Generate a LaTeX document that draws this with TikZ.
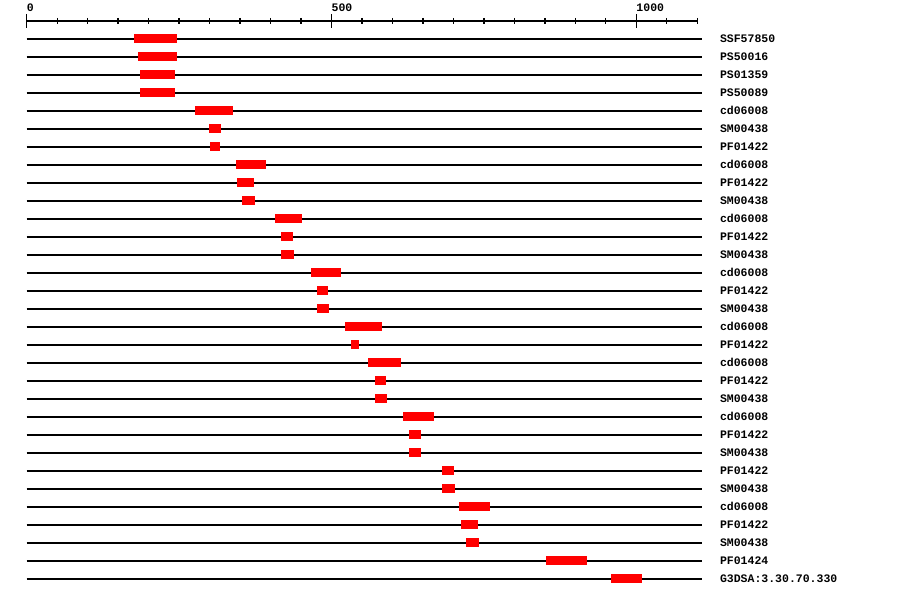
\documentclass[tikz,border=0pt]{standalone}
\usepackage{fontspec}
\setmonofont{Liberation Mono}
\usetikzlibrary{positioning}
\definecolor{hitcol}{RGB}{255, 0, 0}

\begin{document}
\begin{tikzpicture}[
    x=0.6096pt, y=-18pt,
    track/.style = {draw=black, line width=1.3pt},
    hit/.style = {fill=hitcol},
    tick/.style = {draw=black, line width=1.3pt},
    ticklabel/.style = {anchor=west, inner sep=0pt, font=\fontsize{11.5}{12}\selectfont\ttfamily\bfseries},
    hitname/.style = {anchor=base west, inner sep=0pt, yshift=-3.8pt, font=\fontsize{11.5}{12}\selectfont\ttfamily\bfseries}
]
    \useasboundingbox[fill=white] (-43.8,-1.1667) rectangle (1432.6,32.056);

    % SCALE
    \draw[tick] (0,0) -- (1102,0);
    \foreach \t in {50,100,...,1100} {
        \draw[tick] (\t,-0.1667) -- (\t,0.1667);
    }
    \foreach \t in {0,500,1000} {
        \draw[tick] (\t,-0.389) -- (\t,0.389);
    }
    \node[ticklabel] (lab0) at (0,-0.72) {0};
    \node[ticklabel] (lab500) at (500,-0.72) {500};
    \node[ticklabel] (lab1000) at (1000,-0.72) {1000};

    % HITS
    \draw[track] (0,1) -- (1107,1);   \fill[hit] (176,0.75) rectangle (247,1.25); \node[hitname] (h1) at (1137,1) {SSF57850};
    \draw[track] (0,2) -- (1107,2);   \fill[hit] (183,1.75) rectangle (247,2.25); \node[hitname] (h2) at (1137,2) {PS50016};
    \draw[track] (0,3) -- (1107,3);   \fill[hit] (186,2.75) rectangle (243,3.25); \node[hitname] (h3) at (1137,3) {PS01359};
    \draw[track] (0,4) -- (1107,4);   \fill[hit] (186,3.75) rectangle (243,4.25); \node[hitname] (h4) at (1137,4) {PS50089};
    \draw[track] (0,5) -- (1107,5);   \fill[hit] (276,4.75) rectangle (338,5.25); \node[hitname] (h5) at (1137,5) {cd06008};
    \draw[track] (0,6) -- (1107,6);   \fill[hit] (299,5.75) rectangle (319,6.25); \node[hitname] (h6) at (1137,6) {SM00438};
    \draw[track] (0,7) -- (1107,7);   \fill[hit] (301,6.75) rectangle (317,7.25); \node[hitname] (h7) at (1137,7) {PF01422};
    \draw[track] (0,8) -- (1107,8);   \fill[hit] (343,7.75) rectangle (393,8.25); \node[hitname] (h8) at (1137,8) {cd06008};
    \draw[track] (0,9) -- (1107,9);   \fill[hit] (345,8.75) rectangle (373,9.25); \node[hitname] (h9) at (1137,9) {PF01422};
    \draw[track] (0,10) -- (1107,10); \fill[hit] (353,9.75) rectangle (375,10.25); \node[hitname] (h10) at (1137,10) {SM00438};
    \draw[track] (0,11) -- (1107,11); \fill[hit] (407,10.75) rectangle (452,11.25); \node[hitname] (h11) at (1137,11) {cd06008};
    \draw[track] (0,12) -- (1107,12); \fill[hit] (417,11.75) rectangle (437,12.25); \node[hitname] (h12) at (1137,12) {PF01422};
    \draw[track] (0,13) -- (1107,13); \fill[hit] (417,12.75) rectangle (439,13.25); \node[hitname] (h13) at (1137,13) {SM00438};
    \draw[track] (0,14) -- (1107,14); \fill[hit] (466,13.75) rectangle (516,14.25); \node[hitname] (h14) at (1137,14) {cd06008};
    \draw[track] (0,15) -- (1107,15); \fill[hit] (476,14.75) rectangle (494,15.25); \node[hitname] (h15) at (1137,15) {PF01422};
    \draw[track] (0,16) -- (1107,16); \fill[hit] (476,15.75) rectangle (496,16.25); \node[hitname] (h16) at (1137,16) {SM00438};
    \draw[track] (0,17) -- (1107,17); \fill[hit] (522,16.75) rectangle (583,17.25); \node[hitname] (h17) at (1137,17) {cd06008};
    \draw[track] (0,18) -- (1107,18); \fill[hit] (532,17.75) rectangle (545,18.25); \node[hitname] (h18) at (1137,18) {PF01422};
    \draw[track] (0,19) -- (1107,19); \fill[hit] (560,18.75) rectangle (614,19.25); \node[hitname] (h19) at (1137,19) {cd06008};
    \draw[track] (0,20) -- (1107,20); \fill[hit] (571,19.75) rectangle (589,20.25); \node[hitname] (h20) at (1137,20) {PF01422};
    \draw[track] (0,21) -- (1107,21); \fill[hit] (571,20.75) rectangle (591,21.25); \node[hitname] (h21) at (1137,21) {SM00438};
    \draw[track] (0,22) -- (1107,22); \fill[hit] (617,21.75) rectangle (668,22.25); \node[hitname] (h22) at (1137,22) {cd06008};
    \draw[track] (0,23) -- (1107,23); \fill[hit] (627,22.75) rectangle (647,23.25); \node[hitname] (h23) at (1137,23) {PF01422};
    \draw[track] (0,24) -- (1107,24); \fill[hit] (627,23.75) rectangle (647,24.25); \node[hitname] (h24) at (1137,24) {SM00438};
    \draw[track] (0,25) -- (1107,25); \fill[hit] (681,24.75) rectangle (701,25.25); \node[hitname] (h25) at (1137,25) {PF01422};
    \draw[track] (0,26) -- (1107,26); \fill[hit] (681,25.75) rectangle (703,26.25); \node[hitname] (h26) at (1137,26) {SM00438};
    \draw[track] (0,27) -- (1107,27); \fill[hit] (709,26.75) rectangle (760,27.25); \node[hitname] (h27) at (1137,27) {cd06008};
    \draw[track] (0,28) -- (1107,28); \fill[hit] (712,27.75) rectangle (740,28.25); \node[hitname] (h28) at (1137,28) {PF01422};
    \draw[track] (0,29) -- (1107,29); \fill[hit] (721,28.75) rectangle (742,29.25); \node[hitname] (h29) at (1137,29) {SM00438};
    \draw[track] (0,30) -- (1107,30); \fill[hit] (852,29.75) rectangle (919,30.25); \node[hitname] (h30) at (1137,30) {PF01424};
    \draw[track] (0,31) -- (1107,31); \fill[hit] (958,30.75) rectangle (1009,31.25); \node[hitname] (h31) at (1137,31) {G3DSA:3.30.70.330};

\end{tikzpicture}
\end{document}
